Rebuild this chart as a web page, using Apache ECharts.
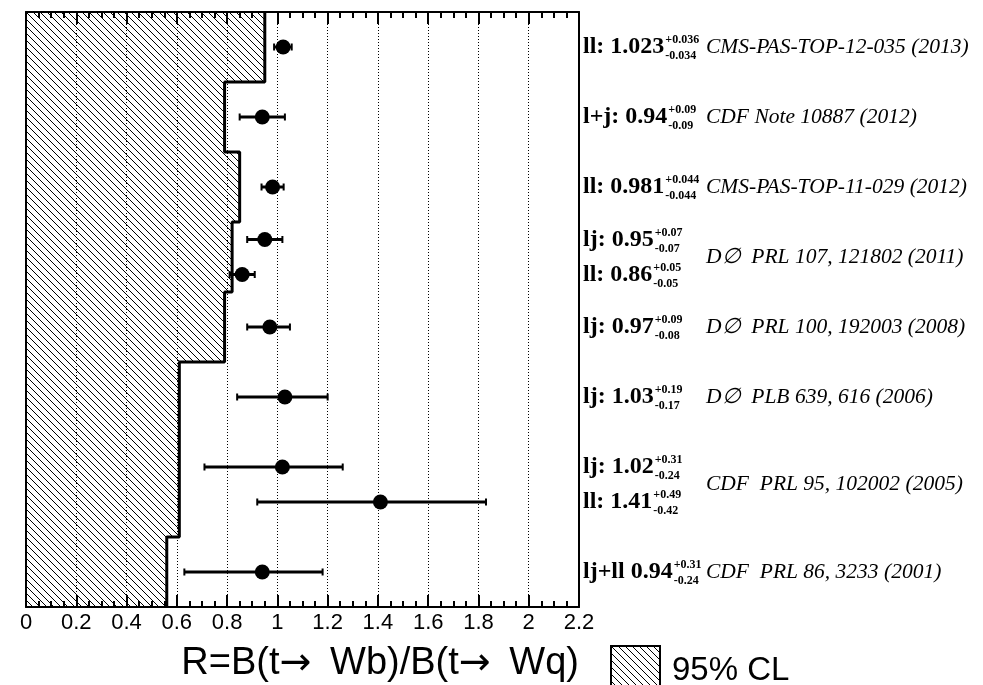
<!DOCTYPE html>
<html>
<head>
<meta charset="utf-8">
<script src="https://cdn.jsdelivr.net/npm/echarts@6/dist/echarts.min.js"></script>
<style>
  html, body { margin: 0; padding: 0; background: #fff; }
  #chart { width: 983px; height: 685px; }
</style>
</head>
<body>
<div id="chart"></div>
<script>
// ---- measurements of R = B(t->Wb)/B(t->Wq) ----
// one entry per result; rowPos is the vertical slot on the chart (0 = bottom)
const channel = ['ll:', 'l+j:', 'll:', 'lj:', 'll:', 'lj:', 'lj:', 'lj:', 'll:', 'lj+ll'];
const rValue  = [1.023, 0.94, 0.981, 0.95, 0.86, 0.97, 1.03, 1.02, 1.41, 0.94];
const errUp   = [0.036, 0.09, 0.044, 0.07, 0.05, 0.09, 0.19, 0.31, 0.49, 0.31];
const errDown = [0.034, 0.09, 0.044, 0.07, 0.05, 0.08, 0.17, 0.24, 0.42, 0.24];
const rowPos  = [8, 7, 6, 5.25, 4.75, 4, 3, 2, 1.5, 0.5];

// publication of each result (one line per publication)
const refText = [
  'CMS-PAS-TOP-12-035 (2013)',
  'CDF Note 10887 (2012)',
  'CMS-PAS-TOP-11-029 (2012)',
  'D\u2205  PRL 107, 121802 (2011)',
  'D\u2205  PRL 100, 192003 (2008)',
  'D\u2205  PLB 639, 616 (2006)',
  'CDF  PRL 95, 102002 (2005)',
  'CDF  PRL 86, 3233 (2001)'
];
const refRow = [8, 7, 6, 5, 4, 3, 1.75, 0.5];

// 95% CL lower limits on R, a step per band of rows
const bandEdges = [0, 1, 3.5, 4.5, 5.5, 6.5, 7.5, 8.5];
const clLimit   = [0.56, 0.61, 0.79, 0.82, 0.85, 0.79, 0.95];

// x axis
const xTickLabels = ['0', '0.2', '0.4', '0.6', '0.8', '1', '1.2', '1.4', '1.6', '1.8', '2', '2.2'];
const xMajorStep = 0.2;
const xMinorPerMajor = 4;
const xTitleParts = ['R=B(t', ' Wb)/B(t', ' Wq)'];
const legendText = '95% CL';

// ---- drawing ----
function hatchCanvas(step) {
  const c = document.createElement('canvas');
  c.width = step; c.height = step;
  const g = c.getContext('2d');
  g.strokeStyle = '#000';
  g.lineWidth = 1;
  g.beginPath();
  g.moveTo(-2, -2); g.lineTo(step + 2, step + 2);
  g.moveTo(-2, step - 2); g.lineTo(2, step + 2);
  g.moveTo(step - 2, -2); g.lineTo(step + 2, 2);
  g.stroke();
  return c;
}
const hatch = { image: hatchCanvas(7), repeat: 'repeat' };

const measureCtx = document.createElement('canvas').getContext('2d');
function textWidth(str, font) { measureCtx.font = font; return measureCtx.measureText(str).width; }

const FONT_MAIN = 'bold 24px "Liberation Serif"';
const FONT_SCRIPT = 'bold 12px "Liberation Serif"';
const FONT_REF = 'italic 21.5px "Liberation Serif"';

function fmt(v) { return String(v); }

// band rectangles [limit, yLow, yHigh]
const bandData = clLimit.map((lim, i) => [lim, bandEdges[i], bandEdges[i + 1]]);
// outline of the excluded region
const outline = [];
clLimit.forEach((lim, i) => { outline.push([lim, bandEdges[i]]); outline.push([lim, bandEdges[i + 1]]); });

// error bars: left arm takes the first quoted uncertainty, right arm the second
const barData = rValue.map((v, i) => [v - errUp[i], v + errDown[i], rowPos[i]]);

const chart = echarts.init(document.getElementById('chart'), null, { renderer: 'canvas' });

// bottom and top frame edges carry inward-pointing major and minor ticks
function xAxisDef(pos, extra) {
  return Object.assign({
    type: 'value', min: 0, max: 2.2, interval: xMajorStep, position: pos,
    axisLine: { show: true, onZero: false, lineStyle: { color: '#000', width: 2 } },
    axisTick: { show: true, inside: true, length: 12, lineStyle: { color: '#000', width: 2 } },
    minorTick: { show: true, splitNumber: xMinorPerMajor, length: 6, lineStyle: { color: '#000', width: 2 } }
  }, extra);
}

chart.setOption({
  animation: false,
  backgroundColor: '#fff',
  grid: { left: 26, top: 12, width: 553, height: 595, containLabel: false },
  xAxis: [
    xAxisDef('bottom', {
      axisLabel: {
        color: '#000', fontFamily: 'Liberation Sans', fontSize: 22, margin: 5,
        formatter: v => xTickLabels[Math.round(v / xMajorStep)]
      },
      splitLine: { show: true, lineStyle: { color: '#000', width: 1, type: [1, 2] } }
    }),
    xAxisDef('top', { axisLabel: { show: false }, splitLine: { show: false } })
  ],
  yAxis: [
    { type: 'value', min: 0, max: 8.5, position: 'left',
      axisLine: { show: true, onZero: false, lineStyle: { color: '#000', width: 2 } },
      axisTick: { show: false }, axisLabel: { show: false }, splitLine: { show: false } },
    { type: 'value', min: 0, max: 8.5, position: 'right',
      axisLine: { show: true, onZero: false, lineStyle: { color: '#000', width: 2 } },
      axisTick: { show: false }, axisLabel: { show: false }, splitLine: { show: false } }
  ],
  series: [
    {
      name: '95% CL', type: 'custom', z: 1,
      data: bandData,
      encode: { x: 0, y: [1, 2] },
      renderItem(params, api) {
        const p0 = api.coord([0, api.value(2)]);
        const p1 = api.coord([api.value(0), api.value(1)]);
        return { type: 'rect', shape: { x: p0[0], y: p0[1], width: p1[0] - p0[0], height: p1[1] - p0[1] },
                 style: { fill: hatch, stroke: null } };
      }
    },
    {
      type: 'line', z: 2, data: outline, symbol: 'none', silent: true,
      lineStyle: { color: '#000', width: 3 }
    },
    {
      type: 'custom', z: 3,
      data: barData,
      encode: { x: [0, 1], y: 2 },
      renderItem(params, api) {
        const lo = api.coord([api.value(0), api.value(2)]);
        const hi = api.coord([api.value(1), api.value(2)]);
        const h = 3.5;
        return { type: 'group', children: [
          { type: 'line', shape: { x1: lo[0], y1: lo[1], x2: hi[0], y2: hi[1] }, style: { stroke: '#000', lineWidth: 3 } },
          { type: 'line', shape: { x1: lo[0], y1: lo[1] - h, x2: lo[0], y2: lo[1] + h }, style: { stroke: '#000', lineWidth: 2 } },
          { type: 'line', shape: { x1: hi[0], y1: hi[1] - h, x2: hi[0], y2: hi[1] + h }, style: { stroke: '#000', lineWidth: 2 } }
        ] };
      }
    },
    {
      type: 'scatter', z: 4, symbol: 'circle', symbolSize: 15,
      itemStyle: { color: '#000', opacity: 1 },
      data: rValue.map((v, i) => [v, rowPos[i]])
    },
    {
      // value labels with asymmetric uncertainties
      type: 'custom', z: 5, clip: false, silent: true,
      data: rowPos.map((y, i) => [2.2, y, i]),
      encode: { x: 0, y: 1 },
      renderItem(params, api) {
        const i = api.value(2);
        const p = api.coord([api.value(0), api.value(1)]);
        const x0 = p[0] + 4;
        const main = channel[i] + ' ' + fmt(rValue[i]);
        const w = textWidth(main, FONT_MAIN);
        return { type: 'group', children: [
          { type: 'text', x: x0, y: p[1], style: { text: main, font: FONT_MAIN, fill: '#000', align: 'left', verticalAlign: 'middle' } },
          { type: 'text', x: x0 + w + 1, y: p[1] - 7, style: { text: '+' + fmt(errUp[i]), font: FONT_SCRIPT, fill: '#000', align: 'left', verticalAlign: 'middle' } },
          { type: 'text', x: x0 + w + 1, y: p[1] + 9, style: { text: '-' + fmt(errDown[i]), font: FONT_SCRIPT, fill: '#000', align: 'left', verticalAlign: 'middle' } }
        ] };
      }
    },
    {
      // publication references
      type: 'custom', z: 5, clip: false, silent: true,
      data: refRow.map((y, i) => [2.2, y, i]),
      encode: { x: 0, y: 1 },
      renderItem(params, api) {
        const i = api.value(2);
        const p = api.coord([api.value(0), api.value(1)]);
        return { type: 'text', x: p[0] + 127, y: p[1], style: { text: refText[i], font: FONT_REF, fill: '#000', align: 'left', verticalAlign: 'middle' } };
      }
    }
  ],
  graphic: [
    {
      type: 'text', right: 404, top: 645,
      style: {
        text: xTitleParts[0] + '{a|\u2192}' + xTitleParts[1] + '{a|\u2192}' + xTitleParts[2],
        font: '38px "Liberation Sans"', fill: '#000',
        rich: { a: { fontFamily: 'DejaVu Sans', fontSize: 38, width: 40, align: 'left', fill: '#000' } }
      }
    },
    { type: 'rect', left: 610, top: 645, shape: { width: 49, height: 50 }, style: { fill: hatch, stroke: '#000', lineWidth: 2 } },
    { type: 'text', left: 672, top: 654, style: { text: legendText, font: '33px "Liberation Sans"', fill: '#000' } }
  ]
});
</script>
</body>
</html>
